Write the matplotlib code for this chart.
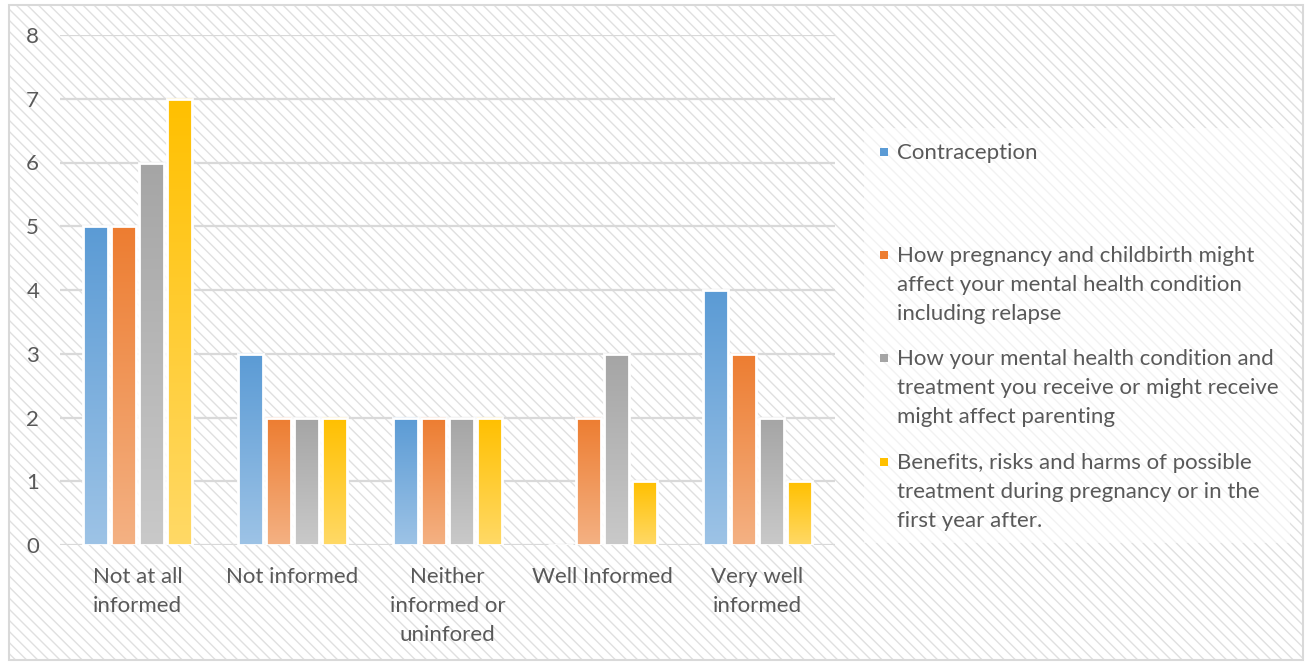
import numpy as np
import matplotlib
matplotlib.use("Agg")
import matplotlib.pyplot as plt
from matplotlib.colors import to_rgb
from matplotlib.patches import Rectangle
from matplotlib.transforms import blended_transform_factory

plt.rcParams['font.family'] = ['Lato', 'DejaVu Sans']

categories = ["Not at all\ninformed", "Not informed", "Neither\ninformed or\nuninfored",
              "Well Informed", "Very well\ninformed"]
series_names = [
    "Contraception",
    "How pregnancy and childbirth might\naffect your mental health condition\nincluding relapse",
    "How your mental health condition and\ntreatment you receive or might receive\nmight affect parenting",
    "Benefits, risks and harms of possible\ntreatment during pregnancy or in the\nfirst year after.",
]
contraception = [5, 3, 2, 0, 4]
pregnancy = [5, 2, 2, 2, 3]
parenting = [6, 2, 2, 3, 2]
benefits = [7, 2, 2, 1, 1]
y_ticks = [0, 1, 2, 3, 4, 5, 6, 7, 8]

series = [contraception, pregnancy, parenting, benefits]
# (top colour, bottom colour) of the gradient fill
grads = [("#5b9bd5", "#9dc3e6"), ("#ed7d31", "#f4b183"),
         ("#a5a5a5", "#c9c9c9"), ("#ffc000", "#ffd966")]

W, H = 1308, 663
FS = 16
LS = 1.55
STEP = 29  # px between text lines
TXT = "#595959"
fig = plt.figure(figsize=(W / 100, H / 100), dpi=100)

def fx(x):
    return x / W

def fy(y):
    return 1 - y / H

# hatched chart background
bg = Rectangle((fx(9), fy(660)), fx(1294), 655 / H, transform=fig.transFigure,
               facecolor="white", edgecolor="#e0e0e0", hatch="\\\\\\", lw=0, zorder=-3)
fig.patches.append(bg)
# legend box, lighter
lbox = Rectangle((fx(864), fy(543)), fx(426), 415 / H, transform=fig.transFigure,
                 facecolor="white", edgecolor="none", alpha=0.6, zorder=-2)
fig.patches.append(lbox)
border = Rectangle((fx(9), fy(660)), fx(1294), 655 / H, transform=fig.transFigure,
                   facecolor="none", edgecolor="#d9d9d9", lw=1.5, zorder=-1)
fig.patches.append(border)

ax = fig.add_axes([fx(60), fy(545), fx(775), 510 / H])
ax.set_facecolor("none")
ax.set_yticks(y_ticks)
ax.set_yticklabels([str(t) for t in y_ticks], fontsize=FS, color=TXT)
ax.yaxis.grid(True, color="#d9d9d9", lw=1.6)
ax.set_axisbelow(True)
ax.tick_params(length=0, pad=15)
for s in ax.spines.values():
    s.set_visible(False)
ax.set_xticks(range(len(categories)))
ax.set_xticklabels([])

x = np.arange(len(categories))
width = 0.16
offsets = [-0.27, -0.09, 0.09, 0.27]
for vals, (top, bot), off in zip(series, grads, offsets):
    grad = np.linspace(to_rgb(top), to_rgb(bot), 100).reshape(100, 1, 3)
    for xi, v in zip(x, vals):
        if v <= 0:
            continue
        ax.imshow(grad, extent=(xi + off - width / 2, xi + off + width / 2, 0, v),
                  origin="upper", aspect="auto", zorder=2, interpolation="bilinear")
    ax.bar(x + off, vals, width, fill=False, edgecolor="white", lw=2, zorder=3)
ax.set_xlim(-0.5, 4.5)
ax.set_ylim(0, 8)

# va="baseline" pins the last line, so shift by the number of extra lines
trans = blended_transform_factory(ax.transData, fig.transFigure)
for xi, lab in zip(x, categories):
    n = lab.count("\n")
    ax.text(xi, fy(583 + n * STEP), lab, transform=trans, ha="center", va="baseline",
            fontsize=FS, color=TXT, linespacing=LS)

# legend
leg_base = [159, 262, 365, 469]
for name, (top, bot), y in zip(series_names, grads, leg_base):
    n = name.count("\n")
    fig.patches.append(Rectangle((fx(880), fy(y - 3)), fx(8), 8 / H, transform=fig.transFigure,
                                 facecolor=top, edgecolor="none", zorder=3))
    fig.text(fx(897), fy(y + n * STEP), name, ha="left", va="baseline", fontsize=FS,
             color=TXT, linespacing=LS, zorder=3)

fig.savefig("out.png", dpi=100)
